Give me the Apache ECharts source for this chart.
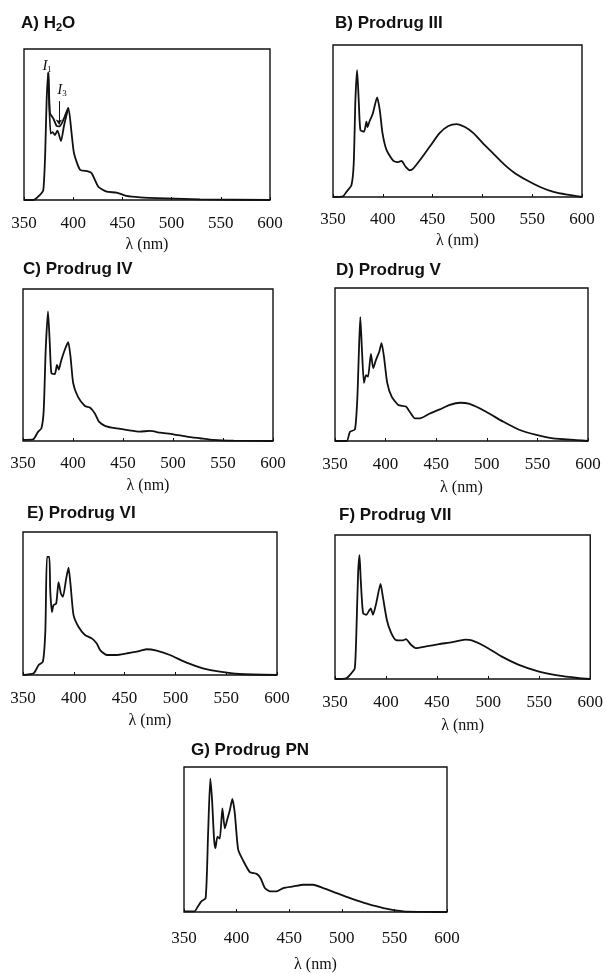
<!DOCTYPE html>
<html>
<head>
<meta charset="utf-8">
<script src="https://cdn.jsdelivr.net/npm/echarts@6/dist/echarts.min.js"></script>
<style>
html,body{margin:0;padding:0;background:#fff;}
#chart{width:606px;height:974px;}
</style>
</head>
<body>
<div id="chart"></div>
<script>
// ---- data (wavelength in nm, normalised emission intensity) ----
const xTicks = [350, 400, 450, 500, 550, 600];
const panelTitles = ['A) H{sub|2}O', 'B) Prodrug III', 'C) Prodrug IV', 'D) Prodrug V', 'E) Prodrug VI', 'F) Prodrug VII', 'G) Prodrug PN'];
const axisName = 'λ (nm)';

// A) H2O - upper trace
const lamA = [350, 359.5, 366, 369.6, 371.5, 373, 374.7, 376.4, 379.8, 383.2, 385.9, 390, 395, 398.4, 400.8, 407, 415, 418.8, 425.5, 434, 444, 454, 468, 495, 529, 600];
const intA = [0, 0, 0.033, 0.066, 0.3, 0.66, 0.845, 0.575, 0.54, 0.49, 0.487, 0.53, 0.61, 0.44, 0.31, 0.2, 0.19, 0.177, 0.088, 0.055, 0.049, 0.027, 0.018, 0.011, 0.004, 0];
// A) H2O - lower trace in the I1-I3 region
const lamA2 = [374.7, 377, 379, 381.5, 384, 387.6, 390.6, 395];
const intA2 = [0.845, 0.44, 0.45, 0.43, 0.46, 0.39, 0.49, 0.61];

const lamB = [350, 360, 363.4, 368.5, 370.8, 372.5, 374.2, 375.8, 377.5, 381.2, 383.6, 384.6, 386.5, 390, 394.3, 397, 399.7, 403.7, 410.4, 415.4, 418.8, 423, 427, 430.5, 437, 447, 457, 465.8, 474, 482.5, 491, 501, 511, 521, 531, 544.6, 558, 571.5, 585, 600];
const intB = [0, 0.004, 0.033, 0.077, 0.22, 0.64, 0.835, 0.64, 0.44, 0.43, 0.495, 0.46, 0.495, 0.55, 0.655, 0.57, 0.42, 0.31, 0.24, 0.23, 0.237, 0.198, 0.176, 0.187, 0.24, 0.33, 0.42, 0.467, 0.48, 0.46, 0.42, 0.35, 0.286, 0.22, 0.165, 0.11, 0.066, 0.033, 0.015, 0];

const lamC = [350, 360, 365, 368.4, 370.7, 372.7, 375, 376.8, 378.4, 381.8, 384, 385.8, 387.8, 391.8, 395.2, 397.5, 400.2, 405, 411.9, 416.9, 422, 426, 432, 442, 453.6, 467, 477, 487, 500.4, 513.8, 527, 540.6, 560.6, 600];
const intC = [0.007, 0.01, 0.06, 0.083, 0.2, 0.6, 0.853, 0.64, 0.446, 0.44, 0.5, 0.47, 0.52, 0.6, 0.65, 0.556, 0.38, 0.29, 0.23, 0.22, 0.18, 0.127, 0.1, 0.084, 0.073, 0.062, 0.066, 0.055, 0.044, 0.029, 0.018, 0.007, 0.002, 0];

const lamD = [350, 361.5, 364.8, 369.7, 372, 373.7, 375, 376.6, 378.6, 380.6, 382.6, 385.5, 387.8, 390.5, 393.8, 396, 398.4, 401.6, 406, 412.5, 420, 424, 429, 433.9, 443.8, 453.6, 463.5, 473.4, 483, 499.7, 516, 532.6, 549, 565.5, 588.5, 600];
const intD = [0, 0, 0.06, 0.076, 0.27, 0.6, 0.81, 0.6, 0.38, 0.43, 0.42, 0.57, 0.476, 0.53, 0.585, 0.64, 0.55, 0.38, 0.29, 0.236, 0.225, 0.19, 0.148, 0.148, 0.18, 0.207, 0.236, 0.25, 0.242, 0.19, 0.127, 0.072, 0.04, 0.017, 0.006, 0];

const lamE = [350, 360.5, 365.4, 369.6, 372, 373.6, 375.9, 376.8, 378.5, 380, 382.7, 385, 387.3, 389.3, 392.5, 394.8, 397, 399.7, 404.6, 411, 417.7, 422.6, 425.9, 432.5, 442, 452, 462, 471.7, 481.5, 494.6, 511, 527, 543.7, 563, 600];
const intE = [0, 0.012, 0.07, 0.093, 0.31, 0.826, 0.826, 0.593, 0.44, 0.488, 0.5, 0.65, 0.57, 0.547, 0.674, 0.75, 0.616, 0.42, 0.337, 0.28, 0.256, 0.22, 0.174, 0.14, 0.14, 0.151, 0.163, 0.18, 0.17, 0.14, 0.086, 0.047, 0.023, 0.007, 0];

const lamF = [350, 361, 366, 369.4, 371, 372.6, 374, 375.2, 377.5, 380.7, 383, 385, 387.2, 390.4, 394.6, 396.9, 400.8, 405, 409.8, 416.3, 419.5, 424.4, 429.2, 439, 451.9, 464.8, 477.7, 484, 497, 513, 529.5, 549, 568, 587.7, 600];
const intF = [0, 0.005, 0.04, 0.076, 0.34, 0.73, 0.86, 0.69, 0.457, 0.446, 0.47, 0.49, 0.446, 0.527, 0.66, 0.57, 0.41, 0.32, 0.27, 0.268, 0.277, 0.238, 0.215, 0.226, 0.242, 0.256, 0.273, 0.268, 0.226, 0.157, 0.1, 0.053, 0.025, 0.007, 0];

const lamG = [350, 360, 363.3, 366.5, 370.6, 372.9, 375, 376.7, 378.6, 379.9, 381.8, 384, 386.5, 388.8, 391, 393.5, 396, 398.3, 401.5, 406.2, 412.6, 419, 422.8, 426.9, 431.6, 438, 444.3, 453.9, 463.4, 472.9, 482.5, 495.2, 507.9, 523.8, 539.6, 558.7, 600];
const intG = [0.005, 0.005, 0.04, 0.073, 0.096, 0.54, 0.92, 0.77, 0.5, 0.44, 0.52, 0.506, 0.714, 0.577, 0.634, 0.7, 0.78, 0.68, 0.43, 0.355, 0.275, 0.263, 0.233, 0.165, 0.142, 0.142, 0.165, 0.176, 0.188, 0.188, 0.165, 0.13, 0.096, 0.057, 0.027, 0.005, 0];

const spectraX = [lamA, lamB, lamC, lamD, lamE, lamF, lamG];
const spectraY = [intA, intB, intC, intD, intE, intF, intG];

// ---- layout (pixels) ----
const boxes = [
  {left: 24, top: 49, width: 246, height: 151, tl: 21, tt: 14, lm: 15, ng: 37},
  {left: 333, top: 45, width: 249, height: 152, tl: 335, tt: 15, lm: 14, ng: 36},
  {left: 23, top: 289, width: 250, height: 152, tl: 23, tt: 261, lm: 14, ng: 37},
  {left: 335, top: 288, width: 253, height: 153, tl: 336, tt: 262, lm: 15, ng: 39},
  {left: 23, top: 532, width: 254, height: 143, tl: 27, tt: 505, lm: 15, ng: 38},
  {left: 335, top: 535, width: 258, height: 144, tl: 339, tt: 507, lm: 15, ng: 39},
  {left: 184, top: 767, width: 263, height: 145, tl: 191, tt: 742, lm: 18, ng: 45}
];

const serif = '"Liberation Serif", "DejaVu Serif", serif';
const sans = '"Liberation Sans", Arial, sans-serif';

const pairs = (xs, ys) => xs.map((x, i) => [x, ys[i]]);

const grid = [], xAxis = [], yAxis = [], series = [], title = [];
boxes.forEach((b, i) => {
  grid.push({left: b.left, top: b.top, width: b.width, height: b.height, show: true,
    borderColor: '#111', borderWidth: 1.4, backgroundColor: 'transparent', containLabel: false});
  xAxis.push({type: 'value', gridIndex: i, min: xTicks[0], max: xTicks[xTicks.length - 1], interval: 50,
    axisLine: {show: false}, splitLine: {show: false},
    axisTick: {show: true, inside: true, length: 3, lineStyle: {color: '#111', width: 1}},
    axisLabel: {show: true, margin: b.lm, color: '#111', fontFamily: serif, fontSize: 17,
      formatter: v => xTicks.includes(v) ? String(v) : ''},
    name: axisName, nameLocation: 'middle', nameGap: b.ng,
    nameTextStyle: {color: '#111', fontFamily: serif, fontSize: 16}});
  yAxis.push({type: 'value', gridIndex: i, min: 0, max: 1, show: false});
  title.push({text: panelTitles[i], left: b.tl, top: b.tt, padding: 0,
    textStyle: {fontFamily: sans, fontSize: 17, fontWeight: 'bold', color: '#111',
      rich: {sub: {fontFamily: sans, fontSize: 11, fontWeight: 'bold', color: '#111', verticalAlign: 'bottom', padding: [8, 0, 0, 0]}}}});
  const s = {type: 'line', xAxisIndex: i, yAxisIndex: i, data: pairs(spectraX[i], spectraY[i]),
    showSymbol: false, smooth: 0.2, lineStyle: {color: '#111', width: 1.8}, animation: false, silent: true};
  if (i === 0) {
    s.markPoint = {symbol: 'circle', symbolSize: 1, itemStyle: {color: 'rgba(0,0,0,0)'}, animation: false,
      label: {show: true, position: 'inside', color: '#111',
        rich: {i: {fontFamily: serif, fontStyle: 'italic', fontSize: 15, color: '#111'},
               s: {fontFamily: serif, fontSize: 9, color: '#111', padding: [6, 0, 0, 0]}}},
      data: [
        {coord: [373.5, 0.885], label: {formatter: '{i|I}{s|1}'}},
        {coord: [388.5, 0.725], label: {formatter: '{i|I}{s|3}'}}
      ]};
    s.markLine = {silent: true, animation: false, symbol: ['none', 'arrow'], symbolSize: 5,
      lineStyle: {color: '#111', width: 1, type: 'solid'}, label: {show: false},
      data: [[{coord: [385.5, 0.655]}, {coord: [385.5, 0.5]}]]};
  }
  series.push(s);
});
series.push({type: 'line', xAxisIndex: 0, yAxisIndex: 0, data: pairs(lamA2, intA2), showSymbol: false,
  smooth: 0.2, lineStyle: {color: '#111', width: 1.8}, animation: false, silent: true});

const chart = echarts.init(document.getElementById('chart'), null, {renderer: 'canvas'});
chart.setOption({backgroundColor: '#fff', animation: false, title, grid, xAxis, yAxis, series});
</script>
</body>
</html>
